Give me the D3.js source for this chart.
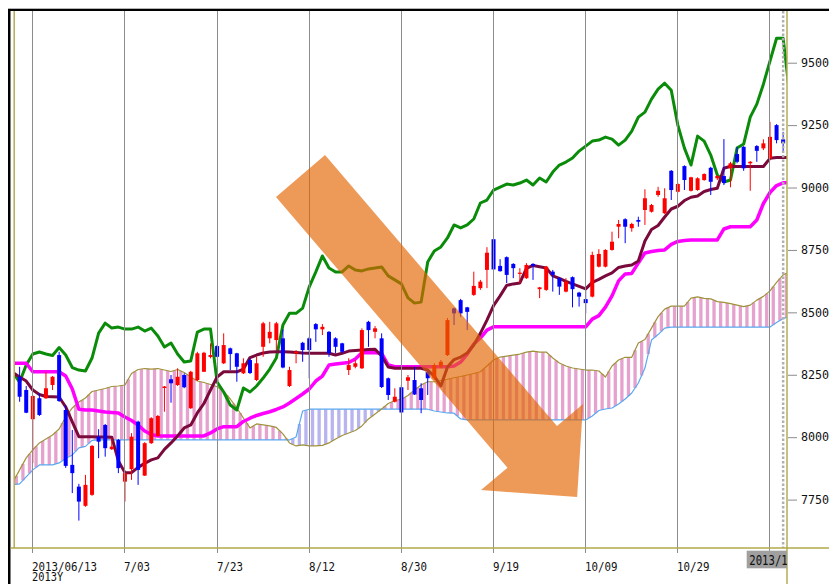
<!DOCTYPE html>
<html><head><meta charset="utf-8">
<script src="https://cdn.jsdelivr.net/npm/d3@7"></script>
<style>body{margin:0;background:#fff;} svg{display:block;background:#fff}</style>
</head><body>
<svg id="chart" width="829" height="584"></svg>
<script>
// ---------------- DATA ----------------
const tickIndex  = [3,17,31,45,59,73,87,101,115];
const tickLabels = ["2013/06/13","7/03","7/23","8/12","8/30","9/19","10/09","10/29",""];
const yearLabel = "2013Y";
const lastDateLabel = "2013/11/20";
const yTicks = [7750,8000,8250,8500,8750,9000,9250,9500];

// candles (index 1..117)
const open = [8242,8189,8072,8156,8156,8209,8329,8109,7889,7802,
7725,7769,8002,8049,7952,7989,7822,7872,8062,7846,
7976,8005,8197,8232,8209,8249,8116,8229,8262,8321,
8365,8296,8356,8336,8256,8309,8229,8362,8396,8389,
8396,8205,8336,8378,8396,8453,8432,8422,8396,8376,
8269,8282,8276,8462,8422,8396,8236,8142,8200,8226,
8229,8196,8262,8236,8282,8329,8516,8549,8520,8570,
8597,8670,8793,8686,8721,8694,8654,8637,8694,8593,
8590,8663,8637,8583,8641,8579,8553,8563,8683,8683,
8750,8843,8873,8837,8870,8910,8903,8970,8897,9067,
8983,9086,8987,8990,9030,9079,9037,9046,9077,9134,
9163,9097,9166,9157,9117,9250,9193];
const high = [8282,8205,8168,8176,8262,8245,8342,8129,8029,7813,
7849,7969,8032,8053,7996,7993,7861,8016,8066,7980,
8080,8089,8205,8249,8276,8256,8266,8342,8342,8376,
8369,8416,8359,8338,8316,8316,8322,8462,8462,8462,
8432,8282,8349,8382,8402,8457,8453,8425,8400,8378,
8316,8309,8436,8466,8445,8416,8239,8196,8209,8249,
8282,8216,8269,8296,8309,8477,8519,8554,8522,8663,
8630,8761,8797,8713,8724,8697,8677,8697,8697,8602,
8686,8670,8641,8637,8644,8582,8590,8743,8753,8753,
8823,8870,8877,8859,8883,8993,8934,9003,8997,9070,
9018,9089,9043,9041,9057,9083,9050,9194,9103,9163,
9166,9106,9170,9193,9263,9254,9223];
const low = [8142,8096,7896,8085,8153,8189,8141,7877,7776,7666,
7721,7765,7916,7922,7949,7856,7742,7829,7809,7845,
7973,8001,8102,8138,8205,8196,8113,8225,8261,8316,
8320,8293,8269,8222,8253,8253,8225,8322,8376,8349,
8276,8201,8296,8302,8236,8382,8409,8322,8336,8336,
8249,8276,8273,8362,8396,8197,8149,8139,8096,8189,
8169,8096,8169,8229,8276,8325,8449,8482,8429,8566,
8590,8597,8670,8663,8617,8637,8617,8634,8630,8557,
8586,8583,8570,8580,8520,8523,8496,8560,8680,8680,
8747,8797,8777,8823,8843,8850,8900,8963,8894,8950,
8980,8990,8984,8987,9027,8970,9030,9010,9001,9097,
9067,8987,9103,9150,9114,9177,9143];
const close = [8162,8098,8165,8089,8196,8242,8145,7885,7856,7742,
7809,7965,7982,7956,7962,7876,7856,8002,7869,7976,
8076,8085,8203,8216,8242,8200,8262,8336,8338,8329,
8322,8369,8333,8282,8296,8257,8296,8456,8422,8456,
8279,8269,8342,8349,8349,8432,8442,8336,8362,8342,
8289,8296,8429,8429,8436,8201,8169,8162,8099,8240,
8171,8149,8236,8289,8302,8469,8496,8496,8502,8606,
8623,8739,8672,8665,8650,8677,8659,8690,8686,8600,
8683,8650,8603,8623,8593,8563,8537,8730,8734,8750,
8783,8854,8843,8854,8863,8957,8930,8987,8957,8990,
9014,9030,9041,9037,9054,9023,9046,9018,9097,9103,
9077,9103,9147,9177,9203,9190,9177];

// indicator lines (index 0..118)
const tenkan = [8258,8241,8225,8189,8171,8163,8162,8161,8121,8061,
8002,8002,8002,8001,8001,8000,7905,7858,7858,7879,
7895,7909,7917,7951,7977,8005,8037,8049,8097,8135,
8189,8241,8262,8262,8262,8273,8319,8329,8337,8341,
8342,8342,8341,8339,8337,8336,8336,8336,8336,8329,
8336,8345,8347,8349,8351,8352,8325,8281,8276,8276,
8276,8276,8276,8269,8245,8205,8281,8311,8321,8337,
8369,8416,8469,8527,8566,8608,8614,8618,8676,8688,
8683,8678,8646,8636,8624,8614,8604,8594,8620,8632,
8646,8658,8680,8686,8690,8706,8786,8832,8848,8882,
8914,8925,8948,8961,8966,8984,8992,8997,9077,9085,
9084,9084,9084,9084,9084,9117,9120,9120,9120];
const kijun = [8296,8296,8296,8262,8262,8262,8262,8262,8245,8193,
8112,8109,8109,8105,8101,8099,8097,8081,8067,8049,
8025,8011,8005,8005,8005,8005,8005,8005,8005,8005,
8017,8033,8042,8042,8042,8063,8076,8087,8095,8102,
8111,8121,8137,8155,8173,8193,8225,8245,8289,8293,
8296,8299,8313,8338,8338,8338,8336,8289,8282,8282,
8282,8282,8282,8282,8282,8282,8282,8285,8301,8333,
8373,8397,8429,8442,8442,8442,8442,8442,8442,8442,
8442,8442,8442,8442,8442,8442,8442,8442,8473,8487,
8521,8566,8626,8654,8656,8698,8738,8744,8748,8750,
8772,8784,8788,8790,8790,8790,8790,8790,8834,8843,
8843,8843,8843,8870,8936,8980,9008,9019,9019];
const chikou = [8257,8221,8289,8333,8341,8333,8327,8359,8329,8279,
8269,8265,8317,8417,8457,8437,8441,8433,8433,8441,
8425,8437,8405,8361,8377,8333,8301,8305,8421,8433,
8433,8221,8181,8129,8109,8197,8181,8205,8237,8273,
8317,8449,8496,8496,8517,8602,8662,8726,8678,8662,
8662,8686,8670,8666,8674,8678,8682,8646,8630,8614,
8558,8537,8541,8702,8746,8762,8798,8850,8838,8850,
8874,8938,8950,8990,9002,9014,9010,9018,9030,9010,
9038,9022,9062,9090,9102,9118,9146,9166,9186,9190,
9202,9194,9170,9190,9226,9282,9302,9354,9394,9418,
9390,9250,9158,9090,9206,9186,9130,9050,9022,9030,
9158,9174,9282,9334,9414,9506,9598,9598,9370];
const senkouA = [7821,7869,7917,7949,7977,7993,8009,8033,8081,8117,
8141,8157,8183,8189,8195,8203,8205,8209,8255,8271,
8275,8273,8275,8269,8263,8271,8259,8241,8225,8219,
8211,8202,8183,8153,8117,8077,8037,8053,8049,8045,
8039,8013,7977,7965,7969,7965,7965,7967,7977,7993,
8007,8017,8027,8045,8073,8093,8113,8135,8147,8152,
8167,8189,8209,8222,8222,8227,8232,8238,8243,8249,
8255,8262,8285,8309,8321,8325,8329,8333,8341,8345,
8341,8341,8317,8297,8285,8277,8273,8269,8269,8265,
8241,8285,8309,8320,8320,8377,8391,8437,8483,8513,
8525,8525,8525,8557,8562,8556,8554,8543,8540,8535,
8529,8523,8529,8549,8564,8586,8620,8650,8662];
const senkouB = [7809,7813,7841,7869,7889,7889,7889,7897,7915,7929,
7957,7963,7987,7989,7989,7989,7989,7989,7989,7989,
7989,7989,7989,7989,7989,7989,7989,7989,7989,7989,
7989,7989,7989,7989,7989,7989,7989,7989,7989,7989,
7989,7989,7989,8001,8105,8112,8112,8112,8112,8112,
8112,8112,8112,8112,8112,8112,8112,8112,8112,8112,
8112,8112,8112,8112,8105,8101,8097,8096,8073,8069,
8069,8069,8069,8069,8069,8069,8069,8069,8069,8069,
8069,8069,8069,8069,8069,8069,8069,8069,8085,8107,
8113,8117,8133,8153,8177,8217,8277,8389,8411,8437,
8441,8441,8441,8441,8441,8441,8441,8441,8441,8441,
8441,8441,8441,8441,8441,8441,8459,8475,8485];

// annotation arrow, in (index, price) coordinates
const arrowIdx   = [39.95, 47.4, 82.64, 86.6, 85.7, 71.1, 75.12];
const arrowPrice = [8962, 9130, 8045, 8133, 7760, 7788, 7878];

// ---------------- DRAW ----------------
const svg = d3.select("#chart");
const x = d3.scaleLinear().domain([0,118]).range([13.05, 789.73]);
const y = d3.scaleLinear().domain([7750,9500]).range([499.6, 62.7]);
const PL=14, PR=787, PT=11, PB=548;

const defs = svg.append("defs");
defs.append("clipPath").attr("id","plot").append("rect")
  .attr("x",PL).attr("y",PT).attr("width",PR-PL).attr("height",PB-PT);
defs.append("clipPath").attr("id","boxclip").append("rect")
  .attr("x",746).attr("y",549).attr("width",41).attr("height",22);

const plot = svg.append("g").attr("clip-path","url(#plot)");

// cloud stripes
const stripes = plot.append("g");
for (let i=0;i<senkouA.length-1;i++){
  const xm=(x(i)+x(i+1))/2;
  const a=(senkouA[i]+senkouA[i+1])/2, b=(senkouB[i]+senkouB[i+1])/2;
  const t=y(Math.max(a,b)), bt=y(Math.min(a,b));
  stripes.append("rect").attr("x",xm-1.65).attr("width",3.3)
    .attr("y",t).attr("height",Math.max(0.5,bt-t))
    .attr("fill", a>=b ? "#e6a2ce" : "#b7b4f0");
}

// vertical grid lines
tickIndex.forEach(t=>{
  const gx=Math.floor(x(t))+0.5;
  svg.append("line").attr("x1",gx).attr("x2",gx).attr("y1",PT).attr("y2",553)
    .attr("stroke","#8c8c8c").attr("stroke-width",1);
});

const line = d3.line().x((d,i)=>x(i)).y(d=>y(d));
function drawLine(data,color,w){
  plot.append("path").datum(data).attr("d",line).attr("fill","none")
    .attr("stroke",color).attr("stroke-width",w)
    .attr("stroke-linejoin","round").attr("stroke-linecap","round");
}
drawLine(senkouB,"#5aa8f0",1.2);
drawLine(senkouA,"#a0923c",1.2);
drawLine(chikou,"#0a8c0a",3);
drawLine(kijun,"#ff00ff",3.5);
drawLine(tenkan,"#7a0a3c",3);

// candles
const cg = plot.append("g");
open.forEach((o,k)=>{
  const i=k+1, cx=x(i), c=close[k];
  const col = c>=o ? "#ff0000" : "#0000ff";
  cg.append("line").attr("x1",cx).attr("x2",cx)
    .attr("y1",y(high[k])).attr("y2",y(low[k]))
    .attr("stroke",col).attr("stroke-width",1);
  const t=y(Math.max(o,c)), b=y(Math.min(o,c));
  cg.append("rect").attr("x",cx-2).attr("width",4)
    .attr("y",t).attr("height",Math.max(1.2,b-t)).attr("fill",col);
});

// dotted current line
const lx = x(open.length);
svg.append("line").attr("x1",lx).attr("x2",lx).attr("y1",PT).attr("y2",PB)
  .attr("stroke","#b0b0b0").attr("stroke-width",2.5).attr("stroke-dasharray","2.5,2");

// arrow annotation
const arrowPts = arrowIdx.map((d,k)=>[x(d), y(arrowPrice[k])]);
svg.append("path").attr("d", d3.line()(arrowPts)+"Z")
  .attr("fill","#e46400").attr("fill-opacity",0.65);

// frame
svg.append("line").attr("x1",8).attr("x2",829).attr("y1",8.5).attr("y2",8.5).attr("stroke","#b4b4b4");
svg.append("rect").attr("x",8).attr("y",9).attr("width",821).attr("height",2).attr("fill","#000");
svg.append("rect").attr("x",8).attr("y",9).attr("width",2.5).attr("height",575).attr("fill","#000");
svg.append("line").attr("x1",14.2).attr("x2",14.2).attr("y1",11).attr("y2",PB).attr("stroke","#b4ac55").attr("stroke-width",1.5);
svg.append("line").attr("x1",787).attr("x2",787).attr("y1",11).attr("y2",584).attr("stroke","#b4ac55").attr("stroke-width",1.5);
svg.append("line").attr("x1",10.5).attr("x2",829).attr("y1",PB).attr("y2",PB).attr("stroke","#b0a848").attr("stroke-width",1.5);

// right axis
const yAxis = d3.axisRight(y).tickValues(yTicks).tickSize(9).tickPadding(4).tickFormat(d3.format("d"));
const ga = svg.append("g").attr("transform","translate(788,0)").call(yAxis);
ga.select(".domain").remove();
ga.selectAll(".tick line").attr("stroke","#8c8c8c");
ga.selectAll(".tick text").attr("fill","#111")
  .style("font-family","'DejaVu Sans Mono', monospace").style("font-size","11.7px");

// bottom labels
const font = "'DejaVu Sans Mono', monospace";
tickIndex.forEach((t,k)=>{
  if(!tickLabels[k]) return;
  svg.append("text").attr("transform",`translate(${Math.floor(x(t))},571.2) scale(0.9,1.07)`)
    .style("font-family",font).style("font-size","12px").attr("fill","#111").text(tickLabels[k]);
});
svg.append("text").attr("transform",`translate(${Math.floor(x(tickIndex[0]))},581.2) scale(0.9,1.0)`)
  .style("font-family",font).style("font-size","11.5px").attr("fill","#111").text(yearLabel);

// last date box
const bg = svg.append("g").attr("clip-path","url(#boxclip)");
bg.append("rect").attr("x",746.7).attr("y",550.7).attr("width",41).attr("height",17.6).attr("fill","#a0a0a0");
bg.append("text").attr("transform","translate(749.3,565) scale(0.76,1)")
  .style("font-family",font).style("font-size","14px").attr("fill","#111").text(lastDateLabel);
</script>
</body></html>
